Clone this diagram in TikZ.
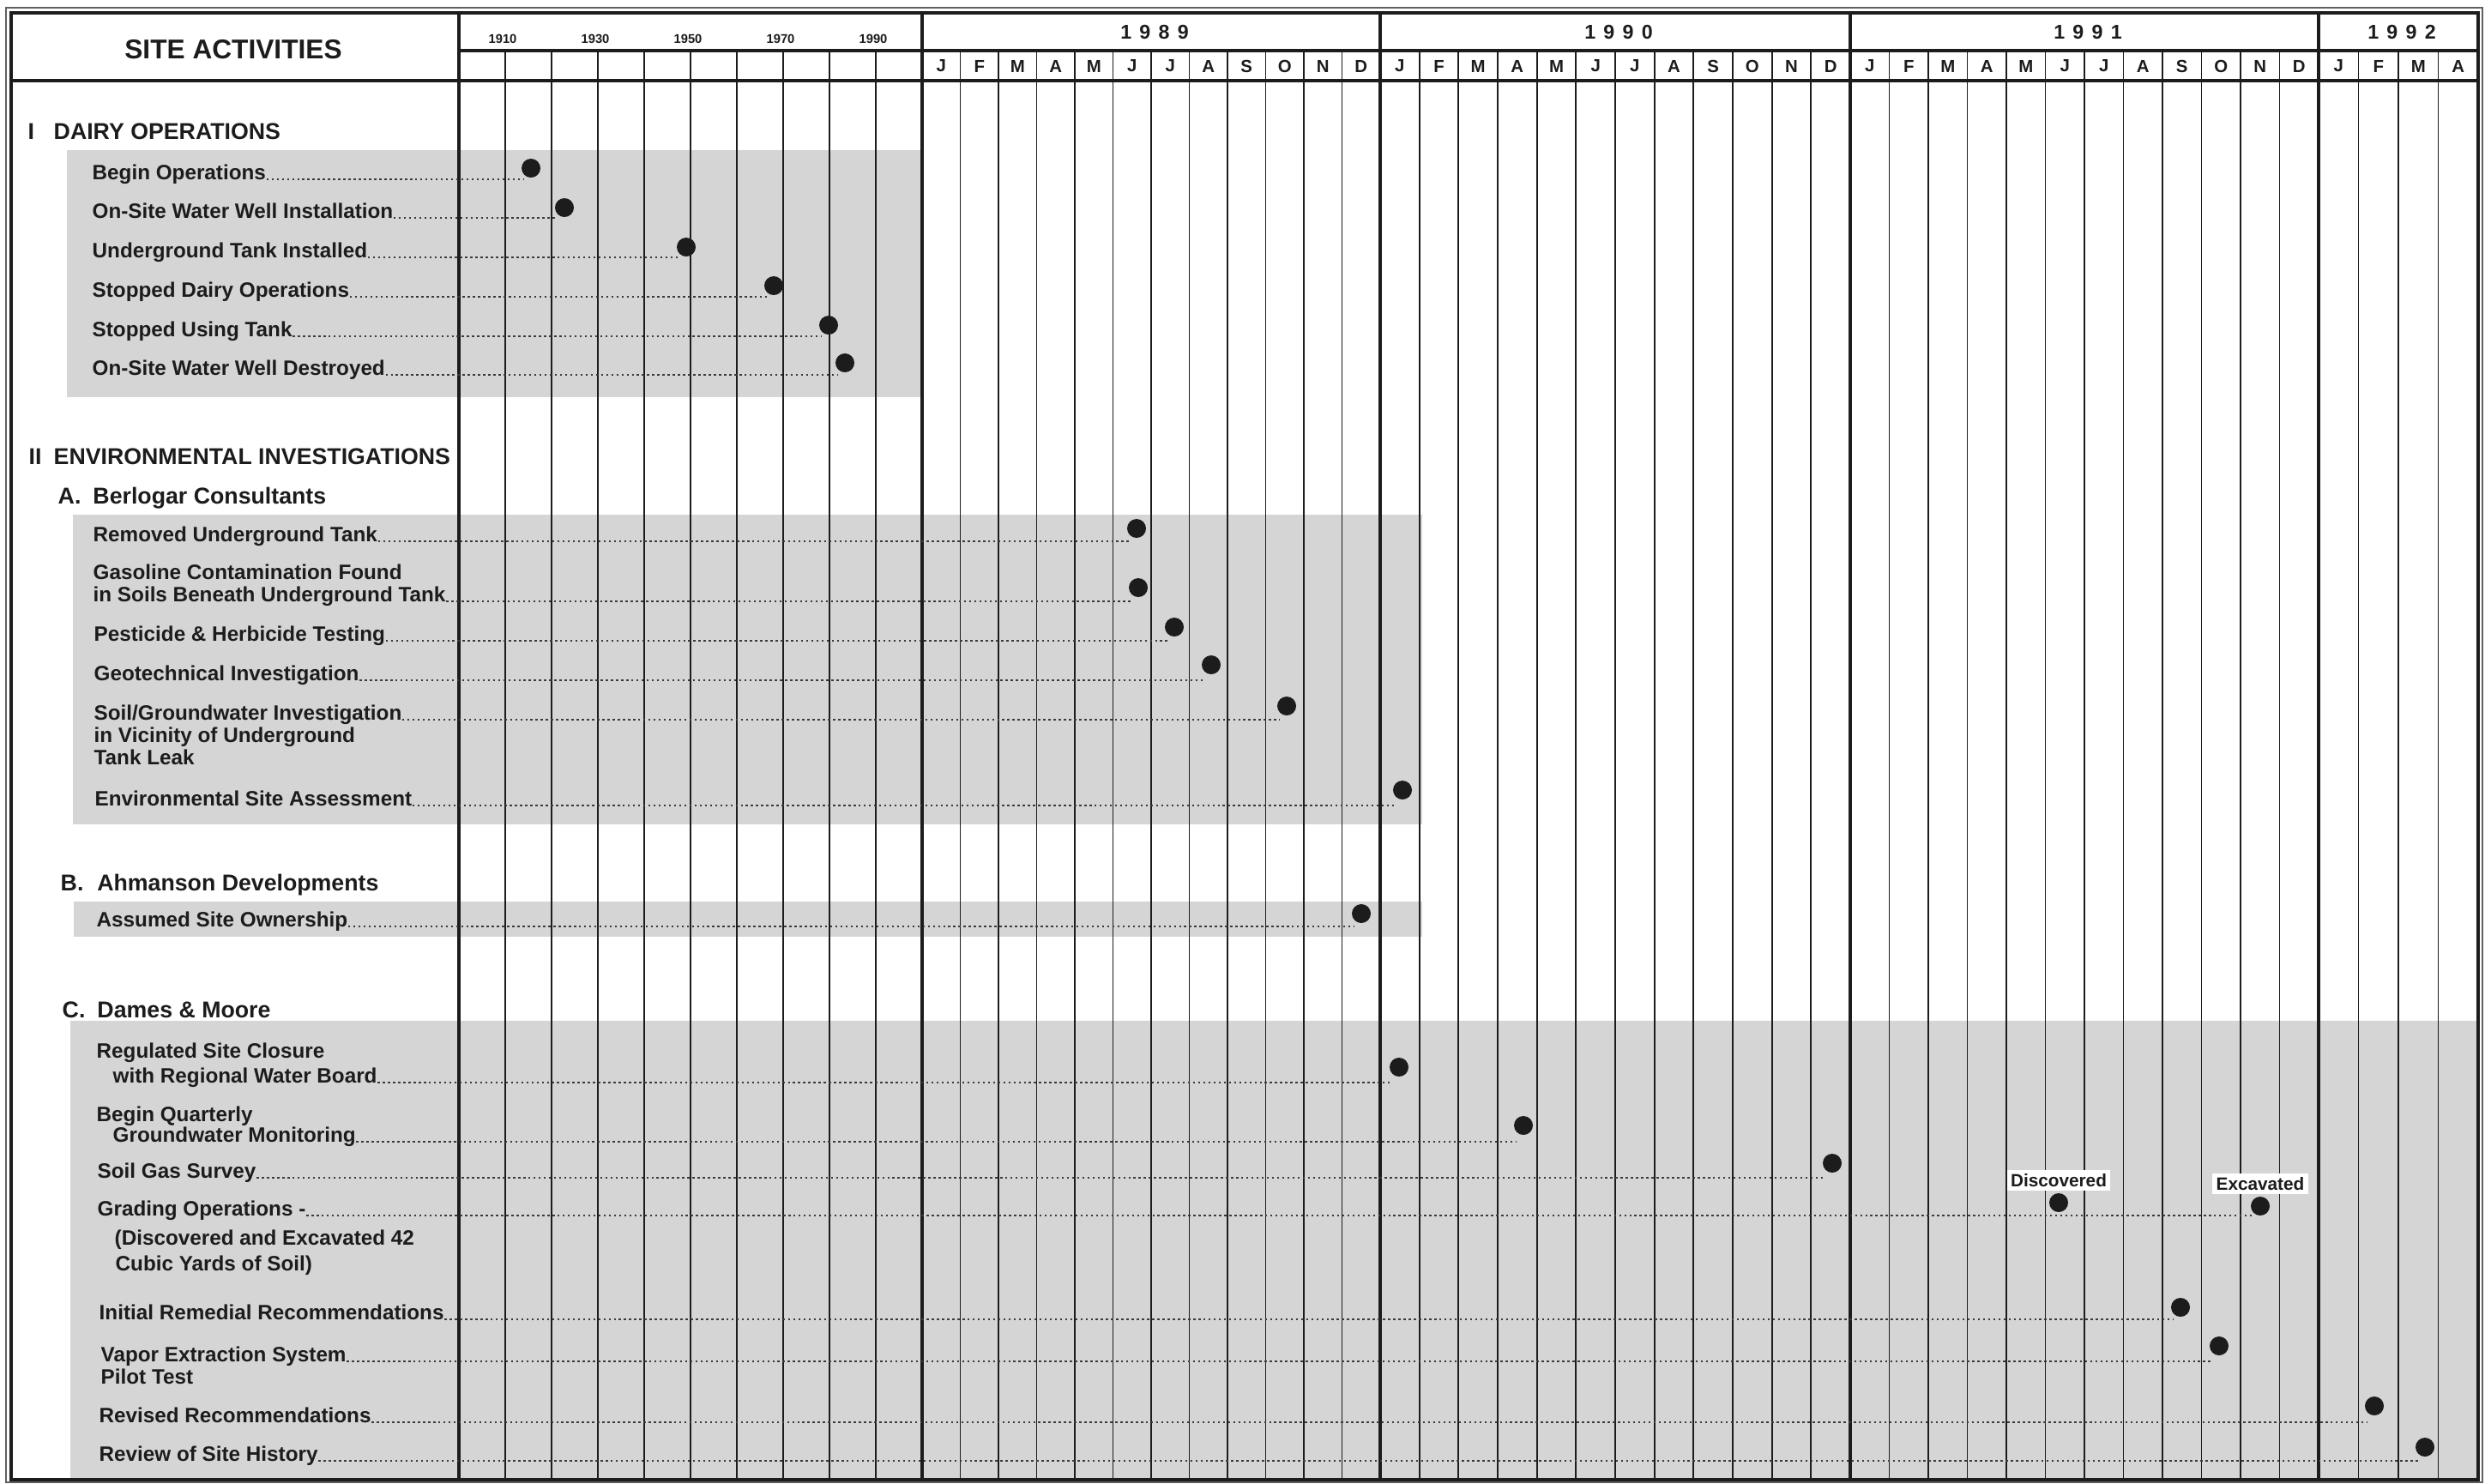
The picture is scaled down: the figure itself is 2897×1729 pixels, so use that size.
\documentclass[tikz,border=0pt]{standalone}
\usepackage{fontspec}
\setmainfont{Liberation Sans}
\usepackage{xcolor}
\usepackage{tikz}
\usetikzlibrary{positioning}
\definecolor{halftone}{HTML}{D5D5D5}
\definecolor{inkdark}{HTML}{1C1C1C}
\definecolor{leadgray}{HTML}{3A3A3A}

\tikzset{
  item/.style={anchor=base west, inner sep=0pt, text=inkdark,
               font=\bfseries\fontsize{6.9}{8}\selectfont},
  head/.style={anchor=base west, inner sep=0pt, text=inkdark,
               font=\bfseries\fontsize{7.6}{9}\selectfont},
  evt/.style={circle, fill=inkdark, inner sep=0pt, minimum size=0.22cm},
  leader/.style={draw=leadgray, line width=0.7pt, densely dotted},
  band/.style={fill=halftone},
  mline/.style={draw=inkdark, line width=0.5pt},
  yline/.style={draw=inkdark, line width=1pt},
  hline/.style={draw=inkdark, line width=1.2pt},
  tag/.style={fill=white, inner sep=1.2pt, text=inkdark,
              font=\bfseries\fontsize{5.9}{7}\selectfont},
}

\begin{document}
\begin{tikzpicture}[x=0.01cm, y=-0.01cm]
\useasboundingbox (0,0) rectangle (2897,1729);

\fill[band] (78,175) rectangle (1075,463);
\fill[band] (85,600) rectangle (1658,961);
\fill[band] (86,1051) rectangle (1658,1092);
\fill[band] (82,1190) rectangle (2889,1725);

\foreach \k in {1,...,9}
  \draw[mline] (535+54*\k,59) -- (535+54*\k,1725);
\foreach \yr [count=\k] in {1910,1930,1950,1970,1990}
  \node[text=inkdark, font=\bfseries\fontsize{4.2}{5}\selectfont] (dec\k) at (532+108*\k-54,45) {\yr};

\foreach \ys/\ye/\n/\yr in {1075/1609/12/1989, 1609/2157/12/1990, 2157/2703/12/1991, 2703/2889/4/1992}{
  \draw[yline] (\ys,15) -- (\ys,1725);
  \node[text=inkdark, font=\bfseries\fontsize{6.6}{8}\selectfont] (yr\yr) at ({(\ys+\ye)/2+4},37)
    {\addfontfeature{LetterSpace=40}\yr};
  \foreach \ml [count=\m] in {J,F,M,A,M,J,J,A,S,O,N,D}{
    \ifnum\m>\n\else
      \node[text=inkdark, font=\bfseries\fontsize{5.8}{7}\selectfont] (m\yr-\m)
        at ({\ys+(\m-0.5)*(\ye-\ys)/\n},77) {\ml};
      \ifnum\m<\n
        \draw[mline] ({\ys+\m*(\ye-\ys)/\n},59) -- ({\ys+\m*(\ye-\ys)/\n},1725);
      \fi
    \fi
  }
}

\draw[hline] (535,59) -- (2889,59);
\draw[hline] (13,94) -- (2889,94);
\draw[yline] (535,15) -- (535,1725);
\draw[inkdark, line width=1.3pt] (13,15) rectangle (2889,1725);
\draw[inkdark!70, line width=0.4pt] (7,9) rectangle (2894,1728);

\node[text=inkdark, font=\bfseries\fontsize{9}{11}\selectfont] (title) at (272,58) {SITE ACTIVITIES};

\node[head] (sec1n) at (32,162) {I};
\node[head] (sec1) at (62,162) {DAIRY OPERATIONS};
\node[head] (sec2n) at (33,541) {II};
\node[head] (sec2) at (62,541) {ENVIRONMENTAL INVESTIGATIONS};
\node[head] (grpA) at (67,587) {A.\hspace{4pt}Berlogar Consultants};
\node[head] (grpB) at (70,1038) {B.\hspace{4.5pt}Ahmanson Developments};
\node[head] (grpC) at (72,1186) {C.\hspace{4pt}Dames \& Moore};

\foreach \txt/\yb/\dx/\dy [count=\i] in {Begin Operations/209/619/196,
    On-Site Water Well Installation/254/658/242, Underground Tank Installed/300/800/288,
    Stopped Dairy Operations/346/902/333, Stopped Using Tank/392/966/379,
    On-Site Water Well Destroyed/437/985/423}{
  \node[item] (dairy\i) at (107,\yb) {\txt};
  \node[evt] (dairydot\i) at (\dx,\dy) {};
  \draw[leader] (dairy\i.base east) -- (dairy\i.base east -| dairydot\i.south west);
}

\node[item] (rmtank) at (108,631) {Removed Underground Tank};
\node[evt] (rmtankdot) at (1325,616) {};
\node[item] (gas1) at (108,675) {Gasoline Contamination Found};
\node[item] (gas2) at (108,701) {in Soils Beneath Underground Tank};
\node[evt] (gasdot) at (1327,685) {};
\node[item] (pest) at (109,747) {Pesticide \& Herbicide Testing};
\node[evt] (pestdot) at (1369,731) {};
\node[item] (geo) at (109,793) {Geotechnical Investigation};
\node[evt] (geodot) at (1412,775) {};
\node[item] (sgw1) at (109,839) {Soil/Groundwater Investigation};
\node[item] (sgw2) at (109,865) {in Vicinity of Underground};
\node[item] (sgw3) at (109,891) {Tank Leak};
\node[evt] (sgwdot) at (1500,823) {};
\node[item] (esa) at (110,939) {Environmental Site Assessment};
\node[evt] (esadot) at (1635,921) {};

\node[item] (own) at (112,1080) {Assumed Site Ownership};
\node[evt] (owndot) at (1587,1065) {};

\node[item] (rsc1) at (112,1233) {Regulated Site Closure};
\node[item] (rsc2) at (131,1262) {with Regional Water Board};
\node[evt] (rscdot) at (1631,1244) {};
\node[item] (bqm1) at (112,1307) {Begin Quarterly};
\node[item] (bqm2) at (131,1331) {Groundwater Monitoring};
\node[evt] (bqmdot) at (1776,1312) {};
\node[item] (sgs) at (113,1373) {Soil Gas Survey};
\node[evt] (sgsdot) at (2136,1356) {};
\node[item] (grd1) at (113,1417) {Grading Operations -};
\node[item] (grd2) at (133,1451) {(Discovered and Excavated 42};
\node[item] (grd3) at (134,1481) {Cubic Yards of Soil)};
\node[evt] (discdot) at (2400,1402) {};
\node[evt] (excdot) at (2635,1406) {};
\node[tag, above=0.5pt of discdot] (disc) {Discovered};
\node[tag, above=0.5pt of excdot] (exc) {Excavated};
\node[item] (irr) at (115,1538) {Initial Remedial Recommendations};
\node[evt] (irrdot) at (2542,1524) {};
\node[item] (ves1) at (117,1587) {Vapor Extraction System};
\node[item] (ves2) at (117,1613) {Pilot Test};
\node[evt] (vesdot) at (2587,1569) {};
\node[item] (rev) at (115,1658) {Revised Recommendations};
\node[evt] (revdot) at (2768,1639) {};
\node[item] (hist) at (115,1703) {Review of Site History};
\node[evt] (histdot) at (2827,1687) {};

\foreach \tx/\dt in {rmtank/rmtankdot, gas2/gasdot, pest/pestdot, geo/geodot, sgw1/sgwdot,
    esa/esadot, own/owndot, rsc2/rscdot, bqm2/bqmdot, sgs/sgsdot, grd1/excdot,
    irr/irrdot, ves1/vesdot, rev/revdot, hist/histdot}
  \draw[leader] (\tx.base east) -- (\tx.base east -| \dt.south west);
\end{tikzpicture}
\end{document}
